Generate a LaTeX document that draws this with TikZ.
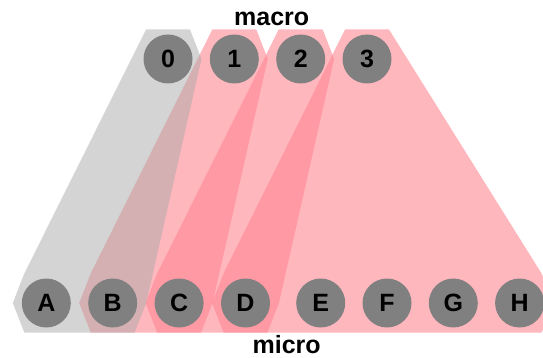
\documentclass[tikz,border=0pt]{standalone}
\usepackage{fontspec}
\setmainfont{Liberation Sans}
\usetikzlibrary{calc}
\definecolor{hullpink}{RGB}{255,135,147}
\definecolor{hullgray}{RGB}{169,169,169}
\definecolor{dotgray}{RGB}{128,128,128}
\begin{document}
\begin{tikzpicture}[x=1pt,y=-1pt,
  state/.style={circle,fill=dotgray,minimum size=49pt,inner sep=0pt,
    font=\fontsize{25}{25}\selectfont\bfseries},
  lbl/.style={anchor=base,font=\fontsize{25}{25}\selectfont\bfseries},
  pinkhull/.style={fill=hullpink,fill opacity=0.6},
  grayhull/.style={fill=hullgray,fill opacity=0.5}]
\useasboundingbox (0,0) rectangle (543,358);

% centres of the macro states (top row) and micro states (bottom row)
\coordinate (c0) at (168,59);
\coordinate (c1) at (234.3,59);
\coordinate (c2) at (300.7,59);
\coordinate (c3) at (367,59);
\coordinate (cA) at (46.3,303);
\coordinate (cB) at (112.7,303);
\coordinate (cC) at (179.1,303);
\coordinate (cD) at (245.5,303);
\coordinate (cE) at (320.7,303);
\coordinate (cF) at (387,303);
\coordinate (cG) at (453.3,303);
\coordinate (cH) at (519.6,303);

% half-widths of the hexagonal padding around each state
\def\hexW{22}\def\hexS{33.5}\def\hexH{29.5}

% hulls of the coarse-graining: 1 -> {B,C}, 2 -> {C,D}, 3 -> {D..H}
\fill[pinkhull] ($(c1)+(-\hexW,-\hexH)$) -- ($(c1)+(\hexW,-\hexH)$) -- ($(c1)+(\hexS,0)$)
  -- ($(cC)+(\hexS,0)$) -- ($(cC)+(\hexW,\hexH)$) -- ($(cB)+(-\hexW,\hexH)$)
  -- ($(cB)+(-\hexS,0)$) -- ($(cB)+(-\hexW,-\hexH)$) -- cycle;
\fill[pinkhull] ($(c2)+(-\hexW,-\hexH)$) -- ($(c2)+(\hexW,-\hexH)$) -- ($(c2)+(\hexS,0)$)
  -- ($(cD)+(\hexS,0)$) -- ($(cD)+(\hexW,\hexH)$) -- ($(cC)+(-\hexW,\hexH)$)
  -- ($(cC)+(-\hexS,0)$) -- ($(cC)+(-\hexW,-\hexH)$) -- cycle;
\fill[pinkhull] ($(c3)+(-\hexW,-\hexH)$) -- ($(c3)+(\hexW,-\hexH)$)
  -- ($(cH)+(\hexW,-\hexH)$) -- ($(cH)+(\hexS,0)$) -- ($(cH)+(\hexW,\hexH)$)
  -- ($(cD)+(-\hexW,\hexH)$) -- ($(cD)+(-\hexS,0)$) -- ($(cD)+(-\hexW,-\hexH)$) -- cycle;
% hull 0 -> {A,B}
\fill[grayhull] ($(c0)+(-\hexW,-\hexH)$) -- ($(c0)+(\hexW,-\hexH)$) -- ($(c0)+(\hexS,0)$)
  -- ($(cB)+(\hexS,0)$) -- ($(cB)+(\hexW,\hexH)$) -- ($(cA)+(-\hexW,\hexH)$)
  -- ($(cA)+(-\hexS,0)$) -- ($(cA)+(-\hexW,-\hexH)$) -- cycle;

% states
\node[state] (n0) at (c0) {0};
\node[state] (n1) at (c1) {1};
\node[state] (n2) at (c2) {2};
\node[state] (n3) at (c3) {3};
\node[state] (nA) at (cA) {A};
\node[state] (nB) at (cB) {B};
\node[state] (nC) at (cC) {C};
\node[state] (nD) at (cD) {D};
\node[state] (nE) at (cE) {E};
\node[state] (nF) at (cF) {F};
\node[state] (nG) at (cG) {G};
\node[state] (nH) at (cH) {H};

% row titles
\node[lbl] (macro) at (271.7,26) {macro};
\node[lbl] (micro) at (286.7,353) {micro};
\end{tikzpicture}
\end{document}
